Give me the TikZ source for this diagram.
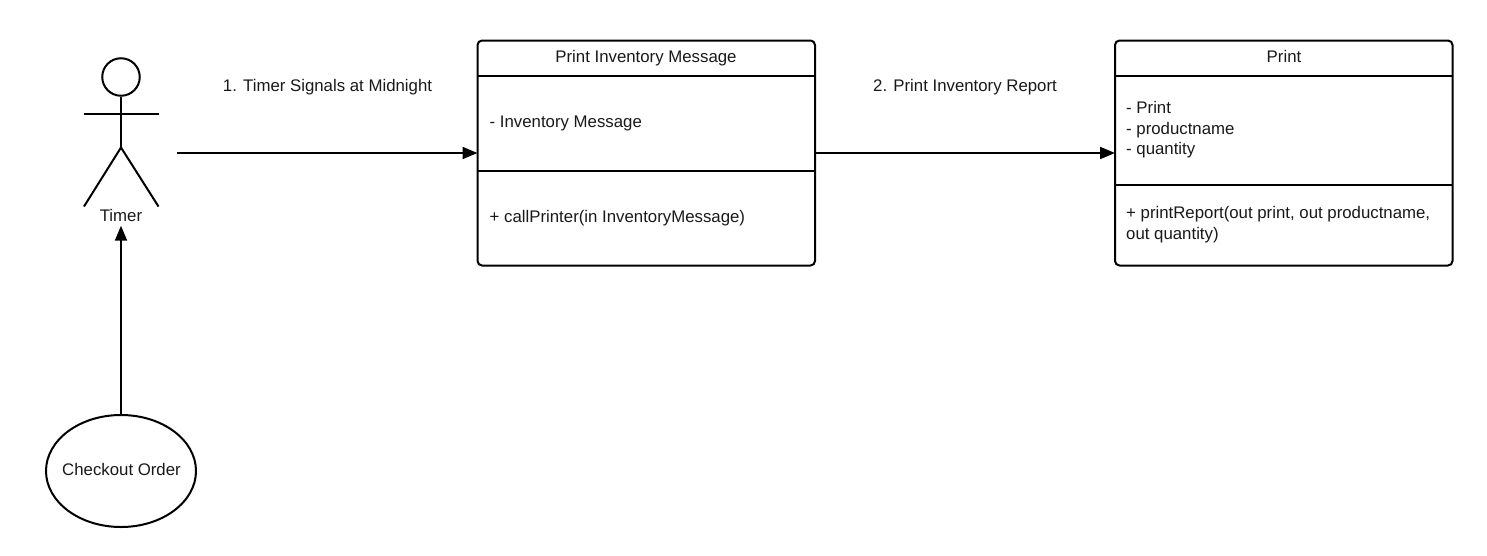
\documentclass[tikz,border=0pt]{standalone}
\usepackage{fontspec}
\setmainfont{Liberation Sans}
\usetikzlibrary{arrows.meta,shapes.geometric}
\tikzset{
  ln/.style={line width=2pt,draw=black,line cap=butt},
  umlbox/.style={ln,rounded corners=4.5pt,minimum width=337.5pt,minimum height=225pt,inner sep=0pt,outer sep=0pt,anchor=north west},
  divider/.style={line width=2pt,draw=black},
  txt/.style={font=\fontsize{16.8}{20.5}\selectfont,inner sep=0pt,text=black!90},
  lefttxt/.style={txt,anchor=west,align=left},
  flow/.style={line width=2pt,draw=black,-{Triangle[length=15pt,width=12pt]}}
}
\begin{document}
\begin{tikzpicture}[x=1pt,y=-1pt]
\useasboundingbox (0,0) rectangle (1487,555);
% actor
\node[ln,circle,minimum size=37.5pt,inner sep=0pt] (head) at (121,77) {};
\coordinate (hip) at (121,147.5);
\coordinate (armL) at (84,114);
\coordinate (armR) at (158.5,114);
\coordinate (footL) at (84,206.5);
\coordinate (footR) at (158.5,206.5);
\draw[ln] (head.south) -- (hip);
\draw[ln] (armL) -- (armR);
\draw[ln,line join=miter] (footL) -- (hip) -- (footR);
\node[txt,minimum height=20pt,minimum width=44pt] (timer) at (121,215.5) {Timer};
\coordinate (timerout) at (177,153);
% use case
\node[ln,ellipse,minimum width=150pt,minimum height=112pt,inner sep=0pt] (order) at (121,471) {};
\node[txt] (ordertxt) at (121.5,469) {Checkout Order};
% box 1
\node[umlbox] (box1) at (477.5,40.5) {};
\coordinate (b1a) at (477.5,76);
\coordinate (b1b) at (815,76);
\coordinate (b1c) at (477.5,171);
\coordinate (b1d) at (815,171);
\draw[divider] (b1a) -- (b1b);
\draw[divider] (b1c) -- (b1d);
\node[txt] (b1title) at (646,58) {Print Inventory Message};
\node[lefttxt] (b1attr) at (489.5,123.5) {- Inventory Message};
\node[lefttxt] (b1op) at (489.5,218.5) {+ callPrinter(in InventoryMessage)};
% box 2
\node[umlbox] (box2) at (1115,40.5) {};
\coordinate (b2a) at (1115,76);
\coordinate (b2b) at (1452.5,76);
\coordinate (b2c) at (1115,185);
\coordinate (b2d) at (1452.5,185);
\draw[divider] (b2a) -- (b2b);
\draw[divider] (b2c) -- (b2d);
\node[txt] (b2title) at (1284,56) {Print};
\node[lefttxt] (b2attr) at (1126,130) {- Print\\- productname\\- quantity};
\node[lefttxt] (b2op) at (1126,224.5) {+ printReport(out print, out productname,\\out quantity)};
% labels
\node[txt] (l1) at (327.5,87) {1. Timer Signals at Midnight};
\node[txt] (l2) at (965,87) {2. Print Inventory Report};
% connectors
\draw[flow] (timerout) -- (box1.west);
\draw[flow] (box1.east) -- (box2.west);
\draw[flow] (order.north) -- (timer.south);
\end{tikzpicture}
\end{document}
